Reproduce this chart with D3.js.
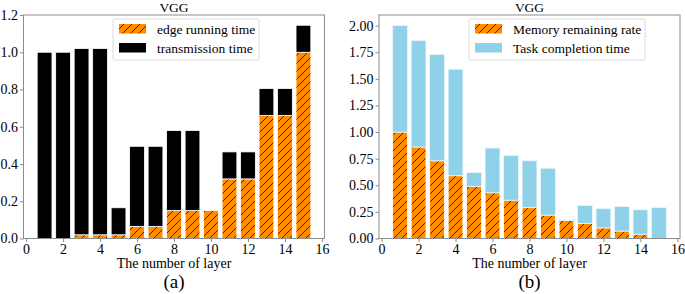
<!DOCTYPE html>
<html lang="en">
    <head>
        <meta charset="utf-8">
        <title>VGG layers</title>
        <script type="text/javascript" src="https://d3js.org/d3.v7.min.js"></script>
        <style type="text/css">
            body { margin: 0; background: white; }
            text {
                font-family: "Liberation Serif", "Times New Roman", serif;
                fill: black;
            }
        </style>
    </head>
    <body>
        <script type="text/javascript">

        // Data
        var layers = [1, 2, 3, 4, 5, 6, 7, 8, 9, 10, 11, 12, 13, 14, 15];

        // (a) edge running time, transmission time (stacked on top)
        var edgeTime = [0, 0, 0.02, 0.02, 0.02, 0.065, 0.065, 0.15, 0.15, 0.15, 0.32, 0.32, 0.66, 0.66, 1.0];
        var transTime = [1.0, 1.0, 1.0, 1.0, 0.145, 0.43, 0.43, 0.43, 0.43, 0, 0.145, 0.145, 0.145, 0.145, 0.145];

        // (b) memory remaining rate, task completion time (stacked on top)
        var memRate = [1.0, 0.86, 0.73, 0.59, 0.49, 0.43, 0.36, 0.29, 0.22, 0.17, 0.14, 0.10, 0.07, 0.04, 0.0];
        var taskTime = [1.0, 1.0, 1.0, 1.0, 0.13, 0.42, 0.42, 0.44, 0.44, 0.005, 0.17, 0.18, 0.23, 0.23, 0.29];

        var xTicks = [0, 2, 4, 6, 8, 10, 12, 14, 16];
        var yTicksA = [0, 0.2, 0.4, 0.6, 0.8, 1.0, 1.2];
        var yTicksB = [0, 0.25, 0.5, 0.75, 1.0, 1.25, 1.5, 1.75, 2.0];

        var w = 685;
        var h = 294;
        var orange = "#ff8c00";
        var blue = "#8fd1e8";
        var spine = "#8c8c8c";

        var svg = d3.select("body")
                    .append("svg")
                    .attr("width", w)
                    .attr("height", h);

        svg.append("rect").attr("width", w).attr("height", h).attr("fill", "white");

        // hatch pattern for orange bars
        var pat = svg.append("defs").append("pattern")
                    .attr("id", "hatch")
                    .attr("patternUnits", "userSpaceOnUse")
                    .attr("width", 8)
                    .attr("height", 8);
        pat.append("rect").attr("width", 8).attr("height", 8).attr("fill", orange);
        pat.append("path")
            .attr("d", "M-1,9 L9,-1 M-5,5 L5,-5 M3,13 L13,3")
            .attr("stroke", "#222")
            .attr("stroke-width", 0.9);

        function panel(opt) {
            var x = d3.scaleLinear().domain([-0.14, 16.14]).range([opt.left, opt.right]);
            var y = d3.scaleLinear().domain([0, opt.ymax]).range([238.5, 15]);
            var g = svg.append("g");
            var bw = x(0.8) - x(0);

            // bottom series
            g.selectAll("rect.lo")
                .data(layers)
                .enter()
                .append("rect")
                .attr("x", function(d){ return x(d - 0.4); })
                .attr("width", bw)
                .attr("y", function(d, i){ return y(opt.lower[i]); })
                .attr("height", function(d, i){ return y(0) - y(opt.lower[i]); })
                .attr("fill", "url(#hatch)")
                .attr("stroke", "white")
                .attr("stroke-width", 0.8);

            // top series
            g.selectAll("rect.hi")
                .data(layers)
                .enter()
                .append("rect")
                .attr("x", function(d){ return x(d - 0.4); })
                .attr("width", bw)
                .attr("y", function(d, i){ return y(opt.lower[i] + opt.upper[i]); })
                .attr("height", function(d, i){ return y(opt.lower[i]) - y(opt.lower[i] + opt.upper[i]); })
                .attr("fill", opt.topColor)
                .attr("stroke", opt.topEdge)
                .attr("stroke-width", 0.8);

            // spines
            g.append("rect")
                .attr("x", opt.left).attr("y", 15)
                .attr("width", opt.right - opt.left).attr("height", 238.5 - 15)
                .attr("fill", "none").attr("stroke", spine).attr("stroke-width", 1);

            // axes
            var xAxis = g.append("g")
                .attr("transform", "translate(0,238.5)")
                .call(d3.axisBottom(x).tickValues(xTicks).tickSize(3.5).tickPadding(2).tickFormat(d3.format("d")));
            var yAxis = g.append("g")
                .attr("transform", "translate(" + opt.left + ",0)")
                .call(d3.axisLeft(y).tickValues(opt.yTicks).tickSize(3.5).tickPadding(2).tickFormat(opt.yFormat));
            [xAxis, yAxis].forEach(function(a){
                a.select(".domain").remove();
                a.selectAll("line").attr("stroke", spine);
                a.selectAll("text").style("font-size", "14px").style("font-family", "Liberation Serif");
            });

            var cx = (opt.left + opt.right) / 2;
            g.append("text").attr("x", cx).attr("y", 11.5).attr("text-anchor", "middle")
                .style("font-size", "13.5px").text("VGG");
            g.append("text").attr("x", cx).attr("y", 268).attr("text-anchor", "middle")
                .style("font-size", "14px").text("The number of layer");
            g.append("text").attr("x", cx).attr("y", 288).attr("text-anchor", "middle")
                .style("font-size", "19px").text(opt.tag);

            // legend
            var lg = g.append("g").attr("transform", "translate(" + opt.legX + ",19)");
            lg.append("rect")
                .attr("width", opt.legW).attr("height", 41).attr("rx", 2)
                .attr("fill", "white").attr("fill-opacity", 0.8)
                .attr("stroke", "#d0d0d0").attr("stroke-width", 0.8);
            lg.append("rect").attr("x", 6).attr("y", 5).attr("width", 27).attr("height", 9.5)
                .attr("fill", "url(#hatch)");
            lg.append("rect").attr("x", 6).attr("y", 24).attr("width", 27).attr("height", 9.5)
                .attr("fill", opt.topColor);
            lg.append("text").attr("x", 44).attr("y", 14.5).style("font-size", "13.5px").text(opt.names[0]);
            lg.append("text").attr("x", 44).attr("y", 33.5).style("font-size", "13.5px").text(opt.names[1]);
        }

        panel({
            left: 23.5, right: 324.5, ymax: 1.2,
            lower: edgeTime, upper: transTime,
            topColor: "black", topEdge: "white",
            yTicks: yTicksA, yFormat: d3.format(".1f"),
            tag: "(a)", legX: 113, legW: 146,
            names: ["edge running time", "transmission time"]
        });

        panel({
            left: 379, right: 680, ymax: 2.1,
            lower: memRate, upper: taskTime,
            topColor: blue, topEdge: "#e8f6fb",
            yTicks: yTicksB, yFormat: d3.format(".2f"),
            tag: "(b)", legX: 469, legW: 176,
            names: ["Memory remaining rate", "Task completion time"]
        });
        </script>
    </body>
</html>
